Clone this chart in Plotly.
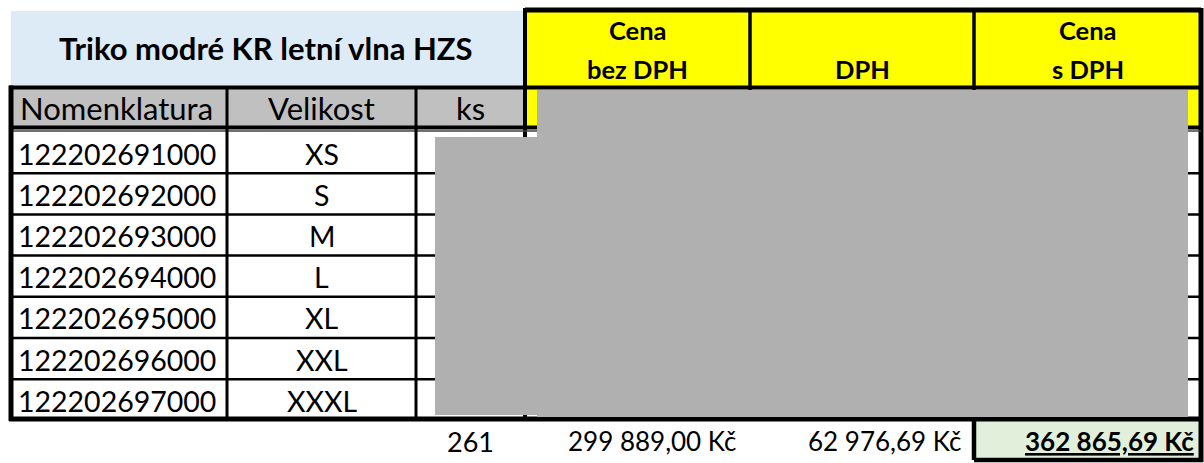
import plotly.graph_objects as go

# ---------------- data ----------------
title = "Triko modré KR letní vlna HZS"
price_headers_l1 = ["Cena", "", "Cena"]
price_headers_l2 = ["bez DPH", "DPH", "s DPH"]
col_headers = ["Nomenklatura", "Velikost", "ks"]
nomenklatura = ["122202691000", "122202692000", "122202693000", "122202694000",
                "122202695000", "122202696000", "122202697000"]
velikost = ["XS", "S", "M", "L", "XL", "XXL", "XXXL"]
total_ks = 261
total_bez_dph = 299889.00
total_dph = 62976.69
total_s_dph = 362865.69


def czk(v):
    s = f"{v:,.2f}".replace(",", " ").replace(".", ",")
    return s + " Kč"


# ---------------- layout geometry ----------------
W, H = 1204, 463
col_x = [11, 227, 416, 525, 750, 974, 1201]   # column edges
head_top, head_bot = 10, 87.5
hrow_bot = 127.5
row_top = 132
row_h = 41.2
n_rows = len(nomenklatura)
row_edges = [row_top + i * row_h for i in range(n_rows + 1)]
table_bot = 419
tot_top, tot_bot = 420, 460

FONT = "Lato"
BLACK = "#000000"

shapes = []
ann = []


def rect(x0, y0, x1, y1, fill, lw=0, lc=BLACK, layer="below"):
    shapes.append(dict(type="rect", xref="x", yref="y", x0=x0, y0=y0, x1=x1, y1=y1,
                       fillcolor=fill, line=dict(width=lw, color=lc), layer=layer))


def line(x0, y0, x1, y1, lw, color=BLACK):
    shapes.append(dict(type="line", xref="x", yref="y", x0=x0, y0=y0, x1=x1, y1=y1,
                       line=dict(width=lw, color=color), layer="above"))


def text(x, y, s, size, bold=False, xanchor="center", under=False, color="#000000"):
    f = dict(family=FONT, size=size, color=color, weight=700 if bold else 400)
    if under:
        f["lineposition"] = "under"
    ann.append(dict(x=x, y=y, xref="x", yref="y", text=s, showarrow=False,
                    xanchor=xanchor, yanchor="middle", font=f, align="center"))


# fills
rect(col_x[0], 11, col_x[3], head_bot, "#DDEBF7")                # title cell
rect(col_x[3], head_top, col_x[6], head_bot, "#FFFF00")           # price header
rect(col_x[0], head_bot, col_x[3], hrow_bot, "#C0C0C0")           # grey header row
rect(col_x[3], head_bot, col_x[6], hrow_bot, "#FFFF00")           # yellow header row
rect(col_x[5], tot_top, col_x[6], tot_bot, "#E2EFDA")             # total cell

# borders of price header block
line(col_x[3], head_top, col_x[6], head_top, 5)
line(col_x[3], head_top - 2, col_x[3], table_bot, 4)
line(col_x[6], head_top - 2, col_x[6], tot_bot + 2, 5)
line(col_x[4], head_top, col_x[4], hrow_bot, 3.5)
line(col_x[5], head_top, col_x[5], hrow_bot, 3.5)
line(col_x[0] - 2, head_bot, col_x[6] + 2, head_bot, 4)
line(col_x[0] - 2, hrow_bot, col_x[6] + 2, hrow_bot, 4)
line(col_x[0], hrow_bot + 3.5, col_x[6], hrow_bot + 3.5, 1.5, "#404040")

# grid of body
line(col_x[0], head_bot - 2, col_x[0], table_bot + 2, 5)
for cx in col_x[1:3]:
    line(cx, head_bot, cx, table_bot, 3)
for ry in row_edges[1:-1]:
    line(col_x[0], ry, col_x[6], ry, 2.5)
line(col_x[0] - 2, table_bot, col_x[6] + 2, table_bot, 5)

# total cell border
line(col_x[5], tot_top, col_x[5], tot_bot, 4.5)
line(col_x[5], tot_bot, col_x[6] + 2, tot_bot, 4.5)

# redaction (obscured cells in the reference), drawn over the grid
NOISE = "#B0B0B0"
shapes.append(dict(type="rect", xref="x", yref="y", x0=col_x[2] + 19, y0=row_top + 5,
                   x1=col_x[3] + 12, y1=table_bot - 4, fillcolor=NOISE,
                   line=dict(width=0), layer="above"))
shapes.append(dict(type="rect", xref="x", yref="y", x0=col_x[3] + 12, y0=head_bot + 2.5,
                   x1=col_x[6] - 13, y1=table_bot - 2, fillcolor=NOISE,
                   line=dict(width=0), layer="above"))

# texts
text((col_x[0] + col_x[3]) / 2 - 2, 48, title, 31, bold=True)
for i in range(3):
    cx = (col_x[3 + i] + col_x[4 + i]) / 2
    if price_headers_l1[i]:
        text(cx, 30, price_headers_l1[i], 25.5, bold=True)
    text(cx, 69, price_headers_l2[i], 25.5, bold=True)
for i, h in enumerate(col_headers):
    text((col_x[i] + col_x[i + 1]) / 2 - (3 if i == 0 else 0), 108, h, 31)

for i in range(n_rows):
    yc = (row_edges[i] + row_edges[i + 1]) / 2 + 1
    text((col_x[0] + col_x[1]) / 2 - 2, yc, nomenklatura[i], 28.5)
    text((col_x[1] + col_x[2]) / 2, yc, velikost[i], 28.5)

ty = (tot_top + tot_bot) / 2 + 1
text((col_x[2] + col_x[3]) / 2, ty, str(total_ks), 27)
text(col_x[4] - 11, ty, czk(total_bez_dph), 26, xanchor="right")
text(col_x[5] - 11, ty, czk(total_dph), 26, xanchor="right")
text(col_x[6] - 5, ty, czk(total_s_dph), 26, bold=True, xanchor="right", under=True)

fig = go.Figure()
fig.update_layout(
    width=W, height=H, margin=dict(l=0, r=0, t=0, b=0),
    paper_bgcolor="white", plot_bgcolor="white",
    xaxis=dict(range=[0, W], visible=False, fixedrange=True),
    yaxis=dict(range=[H, 0], visible=False, fixedrange=True),
    shapes=shapes, annotations=ann, showlegend=False,
)
fig.write_html("out.html", config={"displayModeBar": False},
               post_script="document.body.style.margin='0';document.body.style.overflow='hidden';")
